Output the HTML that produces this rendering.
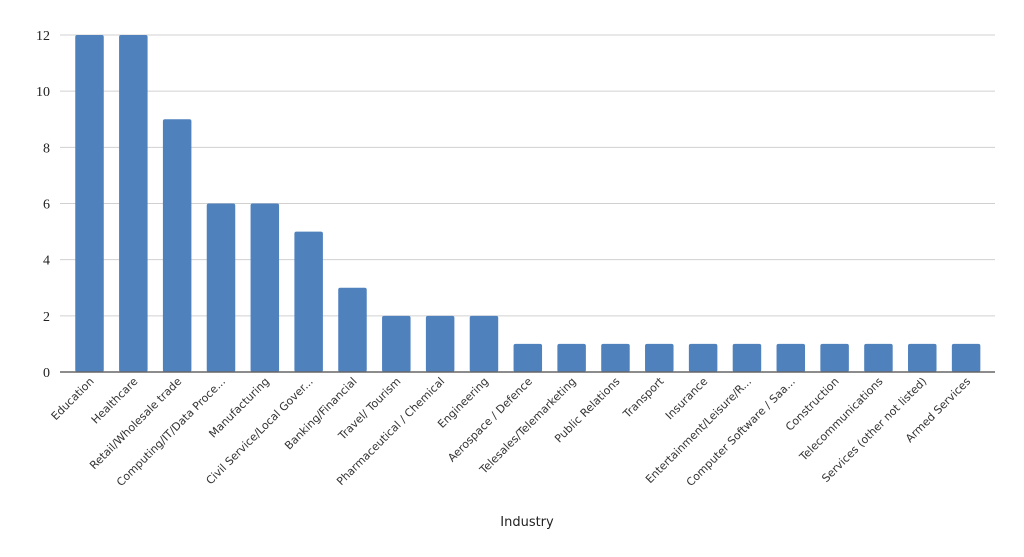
<!DOCTYPE html>
<html><head><meta charset="utf-8"><style>
body{margin:0;background:#fff;}
svg{display:block;}
</style></head><body>
<svg id="chart" width="1024" height="557" xmlns="http://www.w3.org/2000/svg">
<g id="grid"></g>
<g id="yticks"></g>
<g id="bars"></g>
<line x1="60" x2="995" y1="372" y2="372" stroke="#666" stroke-width="1.5"/>
<g id="xlabels"></g>
<text x="527" y="526" text-anchor="middle" font-family="'DejaVu Sans',sans-serif" font-size="13" fill="#222">Industry</text>
</svg>
<script>
const categories=["Education","Healthcare","Retail/Wholesale trade","Computing/IT/Data Proce...","Manufacturing","Civil Service/Local Gover...","Banking/Financial","Travel/ Tourism","Pharmaceutical / Chemical","Engineering","Aerospace / Defence","Telesales/Telemarketing","Public Relations","Transport","Insurance","Entertainment/Leisure/R...","Computer Software / Saa...","Construction","Telecommunications","Services (other not listed)","Armed Services"];
const values=[12,12,9,6,6,5,3,2,2,2,1,1,1,1,1,1,1,1,1,1,1];
const yTicks=[0,2,4,6,8,10,12];
const NS="http://www.w3.org/2000/svg";
const y=v=>372-v*(337/12);
const x=i=>89.5+i*43.83;
const bw=28.5;
function mk(t,a,p){const e=document.createElementNS(NS,t);for(const k in a)e.setAttribute(k,a[k]);p.appendChild(e);return e;}
const grid=document.getElementById('grid'),yt=document.getElementById('yticks'),bars=document.getElementById('bars'),xl=document.getElementById('xlabels');
yTicks.forEach(v=>{
  if(v>0){const l=mk('line',{x1:60,x2:995,y1:y(v),y2:y(v),stroke:'#d0d0d0','stroke-width':1},grid);
  
  }
  const t=mk('text',{x:50,y:y(v)+5,'text-anchor':'end','font-family':"'Liberation Serif',serif",'font-size':14,fill:'#222'},yt);
  t.textContent=v;
  
  
});
categories.forEach((c,i)=>{
  const r=mk('rect',{x:x(i)-bw/2,y:y(values[i]),width:bw,height:372-y(values[i]),fill:'#4f81bd',rx:2},bars);
  
  
  const t=mk('text',{transform:`translate(${x(i)+5},${382}) rotate(-45)`,'text-anchor':'end','font-family':"'DejaVu Sans',sans-serif",'font-size':11,fill:'#333'},xl);
  t.textContent=c;
  
  
});
</script>
</body></html>
